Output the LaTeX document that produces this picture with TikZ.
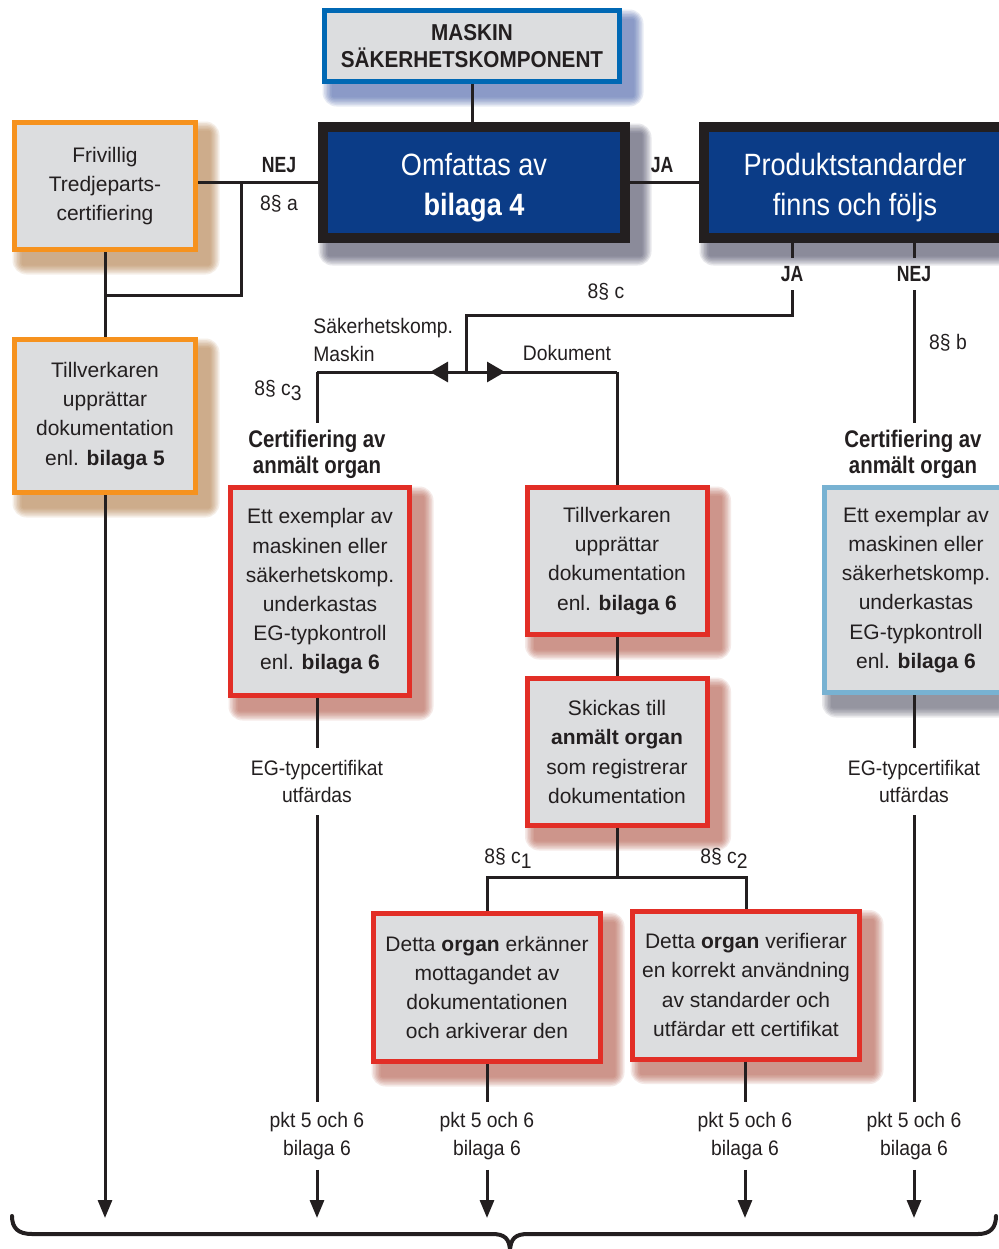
\documentclass[tikz,border=0pt]{standalone}
\usepackage{fontspec}
\setmainfont{Liberation Sans}
\newfontfamily\condfont{Liberation Sans}[FakeStretch=0.88]
\newfontfamily\labfont{Liberation Sans}[FakeStretch=0.92]
\newfontfamily\capsfont{Liberation Sans}[FakeStretch=0.9]
\newfontfamily\nejfont{Liberation Sans}[FakeStretch=0.8]
\newfontfamily\certfont{Liberation Sans}[FakeStretch=0.85]
\usetikzlibrary{arrows.meta,backgrounds}
\pgfdeclarelayer{bottomlayer}
\pgfsetlayers{bottomlayer,background,main}
\definecolor{boxgray}{RGB}{220,221,223}
\definecolor{orangeC}{RGB}{246,146,30}
\definecolor{redC}{RGB}{226,46,38}
\definecolor{navyC}{RGB}{11,60,135}
\definecolor{blueC}{RGB}{0,104,180}
\definecolor{lblueC}{RGB}{120,178,210}
\definecolor{inkC}{RGB}{35,31,32}
\definecolor{shOrange}{RGB}{170,110,50}
\definecolor{shRed}{RGB}{170,70,50}
\definecolor{shNavy}{RGB}{50,50,80}
\definecolor{shBlue}{RGB}{50,80,160}
\definecolor{shGray}{RGB}{70,70,90}
\newcommand\boxshadow[2]{%
  \foreach \k in {1,...,7}{%
    \fill[#2, opacity=0.11, rounded corners=\k pt]
      ([shift={(5.5pt-\k*0.75pt,-6pt+\k*0.75pt)}]#1.north west) rectangle
      ([shift={(5.5pt+\k*0.75pt,-6pt-\k*0.75pt)}]#1.south east);}}
\tikzset{
  box/.style={draw, fill=boxgray, line width=2.5pt, align=center, inner sep=0pt,
    text=inkC, font=\fontsize{10.5}{14.6}\selectfont},
  obox/.style={box, draw=orangeC},
  rbox/.style={box, draw=redC},
  lbbox/.style={box, draw=lblueC},
  bigbox/.style={draw=inkC, fill=navyC, line width=5pt, align=center, inner sep=0pt,
    text=white, font=\condfont\fontsize{15.4}{20}\selectfont,
    minimum width=151pt, minimum height=55.5pt},
  mbox/.style={box, draw=blueC, font=\capsfont\bfseries\fontsize{11.5}{13.5}\selectfont,
    minimum width=147.5pt, minimum height=35.5pt},
  lab/.style={align=center, text=inkC, inner xsep=0pt, inner ysep=6pt,
    font=\labfont\fontsize{10.5}{13.6}\selectfont},
  yn/.style={text=inkC, inner xsep=0pt, inner ysep=4pt,
    font=\nejfont\bfseries\fontsize{11}{13}\selectfont},
  cert/.style={align=center, text=inkC, inner xsep=0pt, inner ysep=3pt,
    font=\certfont\bfseries\fontsize{12}{13}\selectfont},
  conn/.style={draw=inkC, line width=1.5pt},
  arr/.style={conn, -{Triangle[length=9pt,width=7pt]}},
  harr/.style={conn, -{Triangle[length=9pt,width=10pt]}},
}
\begin{document}
\begin{tikzpicture}[x=0.5pt,y=-0.5pt]
\begin{pgfonlayer}{bottomlayer}
\fill[white] (0,0) rectangle (998,1249);
\end{pgfonlayer}
\useasboundingbox (0,0) rectangle (998,1249);

% boxes
\node[mbox] (mask) at (472,46) {MASKIN\\SÄKERHETSKOMPONENT};
\node[bigbox] (omf) at (474,182.5) {\rule{0pt}{16pt}Omfattas av\\\textbf{bilaga 4}};
\node[bigbox] (prod) at (855,182.5) {\rule{0pt}{16pt}Produktstandarder\\finns och följs};
\node[obox, minimum width=90.5pt, minimum height=63.5pt] (friv) at (105,186)
  {Frivillig\\Tredjeparts-\\certifiering};
\node[obox, minimum width=90.5pt, minimum height=76.5pt] (till5) at (105,416)
  {Tillverkaren\\upprättar\\dokumentation\\enl. \textbf{bilaga 5}};
\node[rbox, minimum width=89.5pt, minimum height=104pt] (lbox) at (320,591.5)
  {Ett exemplar av\\maskinen eller\\säkerhetskomp.\\underkastas\\EG-typkontroll\\enl. \textbf{bilaga 6}};
\node[lbbox, minimum width=92pt, minimum height=102.5pt] (rbx) at (916,590)
  {Ett exemplar av\\maskinen eller\\säkerhetskomp.\\underkastas\\EG-typkontroll\\enl. \textbf{bilaga 6}};
\node[rbox, minimum width=90pt, minimum height=73.5pt] (mid1) at (617,561)
  {Tillverkaren\\upprättar\\dokumentation\\enl. \textbf{bilaga 6}};
\node[rbox, minimum width=90pt, minimum height=73.5pt] (mid2) at (617,752)
  {Skickas till\\\textbf{anmält organ}\\som registrerar\\dokumentation};
\node[rbox, minimum width=113.5pt, minimum height=74pt] (bl) at (487,987.5)
  {Detta \textbf{organ} erkänner\\mottagandet av\\dokumentationen\\och arkiverar den};
\node[rbox, minimum width=113.5pt, minimum height=74pt] (br) at (746,985)
  {Detta \textbf{organ} verifierar\\en korrekt användning\\av standarder och\\utfärdar ett certifikat};

% shadows
\begin{scope}[on background layer]
  \boxshadow{mask}{shBlue}
  \boxshadow{omf}{shNavy}
  \boxshadow{prod}{shNavy}
  \boxshadow{friv}{shOrange}
  \boxshadow{till5}{shOrange}
  \boxshadow{lbox}{shRed}
  \boxshadow{rbx}{shGray}
  \boxshadow{mid1}{shRed}
  \boxshadow{mid2}{shRed}
  \boxshadow{bl}{shRed}
  \boxshadow{br}{shRed}
\end{scope}

% labels
\node[yn] (nejA) at (279,165) {NEJ};
\node[lab] (pa) at (279,204) {8§ a};
\node[yn] (jaA) at (662,165) {JA};
\node[yn] (jaL) at (792,274) {JA};
\node[yn] (nejL) at (914,274) {NEJ};
\node[lab] (pc) at (606,292) {8§ c};
\node[lab] (pb) at (948,343) {8§ b};
\node[lab, align=left, anchor=west] (sk) at (313,340) {Säkerhetskomp.\\Maskin};
\node[lab] (dok) at (567,353) {Dokument};
\node[lab] (pc3) at (278,390) {8§ c\raisebox{-0.45ex}{3}};
\node[cert] (certL) at (317,454) {Certifiering av\\anmält organ};
\node[cert] (certR) at (913,454) {Certifiering av\\anmält organ};
\node[lab] (egL) at (317,781.5) {EG-typcertifikat\\utfärdas};
\node[lab] (egR) at (914,781.5) {EG-typcertifikat\\utfärdas};
\node[lab] (pc1) at (508,858) {8§ c\raisebox{-0.45ex}{1}};
\node[lab] (pc2) at (724,858) {8§ c\raisebox{-0.45ex}{2}};
\node[lab, inner ysep=5pt] (pktL) at (317,1136) {pkt 5 och 6\\bilaga 6};
\node[lab, inner ysep=5pt] (pkt2) at (487,1136) {pkt 5 och 6\\bilaga 6};
\node[lab, inner ysep=5pt] (pkt3) at (745,1136) {pkt 5 och 6\\bilaga 6};
\node[lab, inner ysep=5pt] (pktR) at (914,1136) {pkt 5 och 6\\bilaga 6};

% coordinates
\coordinate (nA) at (241,183);
\coordinate (nB) at (105,295);
\coordinate (endA) at (105,1218);
\coordinate (splitTop) at (466,315);
\coordinate (split) at (466,372);
\coordinate (lc) at (317,372);
\coordinate (rc) at (617,372);
\coordinate (aL) at (430,372);
\coordinate (aR) at (505,372);
\coordinate (fork) at (617,877);

% connectors
\draw[conn] (mask.south) -- (mask.south |- omf.north);
\draw[conn] (omf.west) -- (omf.west -| friv.east);
\draw[conn] (nA) |- (nB);
\draw[conn] (friv.south) -- (till5.north);
\draw[arr] (till5.south) -- (endA);
\draw[conn] (omf.east) -- (omf.east -| prod.west);
\draw[conn] (jaL.north |- prod.south) -- (jaL.north);
\draw[conn] (jaL.south) |- (splitTop) -- (split);
\draw[conn] (lc) -- (rc);
\draw[conn] (lc) -- (lc |- certL.north);
\draw[conn] (rc) -- (rc |- mid1.north);
\draw[harr] (split) -- (aL);
\draw[harr] (split) -- (aR);
\draw[conn] (nejL.north |- prod.south) -- (nejL.north);
\draw[conn] (nejL.south) -- (nejL.south |- certR.north);
\draw[conn] (egL.north |- lbox.south) -- (egL.north);
\draw[conn] (egL.south) -- (pktL.north);
\draw[arr] (pktL.south) -- (pktL.south |- endA);
\draw[conn] (egR.north |- rbx.south) -- (egR.north);
\draw[conn] (egR.south) -- (pktR.north);
\draw[arr] (pktR.south) -- (pktR.south |- endA);
\draw[conn] (mid1.south) -- (mid2.north);
\draw[conn] (mid2.south) -- (fork);
\draw[conn] (bl.north) |- (fork) -| (br.north);
\draw[conn] (bl.south) -- (pkt2.north);
\draw[arr] (pkt2.south) -- (pkt2.south |- endA);
\draw[conn] (pkt3.north |- br.south) -- (pkt3.north);
\draw[arr] (pkt3.south) -- (pkt3.south |- endA);

% brace
\draw[inkC, line width=2pt, line cap=round]
  (12,1216) .. controls (12,1228) and (18,1234) .. (32,1234) -- (492,1234)
  .. controls (504,1234) and (510,1238) .. (510,1252);
\draw[inkC, line width=2pt, line cap=round]
  (510,1252) .. controls (510,1238) and (516,1234) .. (528,1234) -- (978,1234)
  .. controls (990,1234) and (996,1228) .. (996,1216);
\end{tikzpicture}
\end{document}
